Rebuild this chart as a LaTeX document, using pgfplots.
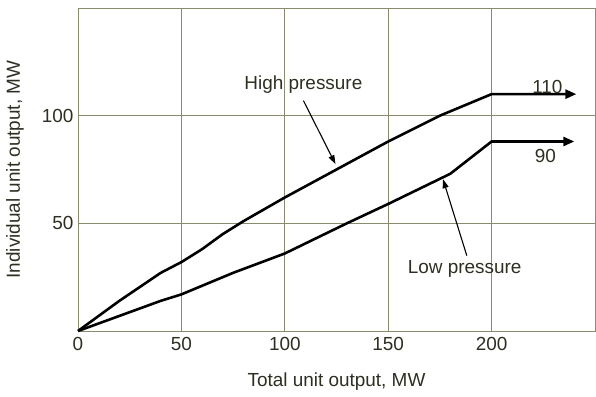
\documentclass[border=0pt]{standalone}
\usepackage{pgfplots}
\pgfplotsset{compat=1.18}
\usepackage{fontspec}
\setmainfont{Liberation Sans}
\usetikzlibrary{arrows.meta}
\definecolor{gridc}{HTML}{8A8A6E}
\definecolor{txt}{HTML}{2E2E22}
\newcommand{\lf}{\fontsize{19}{21}\selectfont}
\begin{document}
\begin{tikzpicture}
\begin{axis}[
  name=ax,
  scale only axis,
  width=517bp, height=323bp,
  xmin=0, xmax=250, ymin=0, ymax=150,
  xtick={0,50,100,150,200},
  ytick={50,100},
  grid=major,
  major grid style={gridc, line width=0.8pt},
  axis line style={gridc, line width=0.8pt},
  major tick length=0pt,
  /pgf/number format/assume math mode=true,
  tick label style={font=\lf, text=txt},
  xticklabel style={yshift=-3bp},
  yticklabel style={xshift=-1bp},
  xlabel={Total unit output, MW},
  ylabel={Individual unit output, MW},
  label style={font=\lf, text=txt},
  xlabel style={at={(axis description cs:0.5,0)}, anchor=center, yshift=-51bp},
  ylabel style={at={(axis description cs:0,0.5)}, anchor=center, rotate=0, yshift=63bp},
  clip=false,
]
\addplot[black, line width=2.6pt, line join=round, -{Triangle[length=11bp,width=9bp]}] coordinates {
  (0,0) (20,14) (40,27) (50,32) (60,38) (70,45) (80,51) (100,62) (125,75) (150,88) (175,100) (200,110) (241,110)
};
\addplot[black, line width=2.6pt, line join=round, -{Triangle[length=11bp,width=9bp]}] coordinates {
  (0,0) (20,7) (40,14) (50,17) (75,27) (100,36) (130,50) (150,59) (180,73) (200,88) (240,88)
};
\draw[black, line width=1.1pt, -{Triangle[length=9bp,width=6bp]}] (axis cs:109,107) -- (axis cs:124.5,77.5);
\draw[black, line width=1.1pt, -{Triangle[length=9bp,width=6bp]}] (axis cs:188,35) -- (axis cs:176.5,70.5);
\node[text=txt, font=\lf] at (axis cs:109,114.5) {High pressure};
\node[text=txt, font=\lf] at (axis cs:187,29) {Low pressure};
\node[text=txt, font=\lf] at (axis cs:227,113.5) {110};
\node[text=txt, font=\lf] at (axis cs:226,81.5) {90};
\end{axis}
\path (ax.south west) ++(-78bp,-66bp) coordinate (bl);
\path (ax.north east) ++(1bp,8bp) coordinate (tr);
\path (bl) rectangle (tr);
\end{tikzpicture}
\end{document}
